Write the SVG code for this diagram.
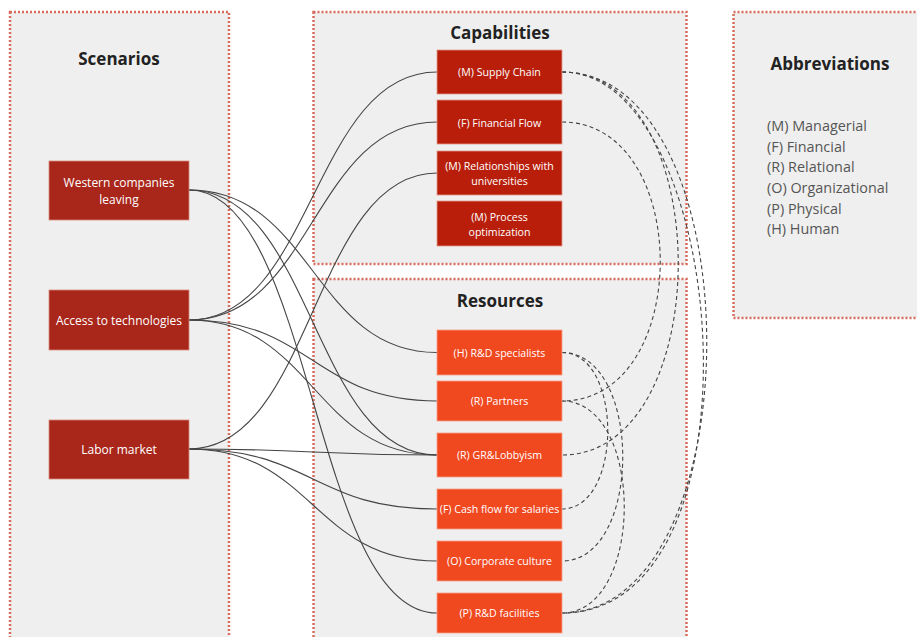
<svg xmlns="http://www.w3.org/2000/svg" width="917" height="637" viewBox="0 0 917 637">
<style>
.panel{fill:#efefef;stroke:#d86c5c;stroke-width:2.5;stroke-dasharray:2 2}
.title{font-family:"Open Sans","Liberation Sans",sans-serif;font-weight:bold;font-size:17px;fill:#222;text-anchor:middle}
.abbr{font-family:"Open Sans","Liberation Sans",sans-serif;font-size:14.4px;fill:#555}
.nt{font-family:"Open Sans","Liberation Sans",sans-serif;font-size:10.6px;fill:#fff;text-anchor:middle}
.st{font-family:"Open Sans","Liberation Sans",sans-serif;font-size:12px;fill:#fff;text-anchor:middle}
.scen{fill:#a9261a;stroke:#d88a7e;stroke-width:0.8}
.cap{fill:#b81e0a;stroke:#e49a8c;stroke-width:0.8}
.res{fill:#f0481f;stroke:#f7a08a;stroke-width:0.8}
.sol{fill:none;stroke:#444;stroke-width:1.1}
.dash{fill:none;stroke:#444;stroke-width:1.1;stroke-dasharray:4 3}
</style>
<rect width="917" height="637" fill="#fff"/>
<g id="panel-scenarios">
<rect class="panel" x="10" y="12" width="219" height="640"/>
<text class="title" x="119" y="65">Scenarios</text>
</g>
<g id="panel-capabilities">
<rect class="panel" x="313.5" y="12" width="373" height="252"/>
<text class="title" x="500" y="39">Capabilities</text>
</g>
<g id="panel-resources">
<rect class="panel" x="313.5" y="279" width="373" height="370"/>
<text class="title" x="500" y="307">Resources</text>
</g>
<g id="panel-abbreviations">
<rect class="panel" x="733.5" y="12" width="200" height="306"/>
<text class="title" x="830" y="70">Abbreviations</text>
<text class="abbr" x="767" y="131">(M) Managerial</text>
<text class="abbr" x="767" y="151.7">(F) Financial</text>
<text class="abbr" x="767" y="172.3">(R) Relational</text>
<text class="abbr" x="767" y="193">(O) Organizational</text>
<text class="abbr" x="767" y="213.7">(P) Physical</text>
<text class="abbr" x="767" y="234.3">(H) Human</text>
</g>
<g id="connectors">
<path class="sol" d="M189,190 C313,190 313,352.5 437,352.5"/>
<path class="sol" d="M189,190 C313,190 313,455 437,455"/>
<path class="sol" d="M189,190 C313,190 313,613 437,613"/>
<path class="sol" d="M189,320 C313,320 313,72 437,72"/>
<path class="sol" d="M189,320 C313,320 313,122 437,122"/>
<path class="sol" d="M189,320 C313,320 313,401 437,401"/>
<path class="sol" d="M189,320 C313,320 313,455 437,455"/>
<path class="sol" d="M189,449 C313,449 313,173 437,173"/>
<path class="sol" d="M189,449 C313,449 313,455 437,455"/>
<path class="sol" d="M189,449 C313,449 313,509 437,509"/>
<path class="sol" d="M189,449 C313,449 313,561 437,561"/>
<path class="dash" d="M562,72 C755,72 755,613 562,613"/>
<path class="dash" d="M562,72 C730,72 770,613 562,613"/>
<path class="dash" d="M562,72 C717,72 717,455 562,455"/>
<path class="dash" d="M562,122 C693,122 693,401 562,401"/>
<path class="dash" d="M562,352.5 C623,352.5 623,509 562,509"/>
<path class="dash" d="M562,352.5 C643,352.5 643,561 562,561"/>
<path class="dash" d="M562,401 C645,401 645,613 562,613"/>
</g>
<g id="node-western">
<rect class="scen" x="49" y="161" width="140" height="59"/>
<text class="st" x="119" y="187">Western companies</text>
<text class="st" x="119" y="204">leaving</text>
</g>
<g id="node-access">
<rect class="scen" x="49" y="290" width="140" height="60"/>
<text class="st" x="119" y="324.5">Access to technologies</text>
</g>
<g id="node-labor">
<rect class="scen" x="49" y="420" width="140" height="59"/>
<text class="st" x="119" y="453.5">Labor market</text>
</g>
<g id="node-supply-chain">
<rect class="cap" x="437" y="50" width="125" height="44"/>
<text class="nt" x="499.5" y="76">(M) Supply Chain</text>
</g>
<g id="node-financial-flow">
<rect class="cap" x="437" y="100" width="125" height="44"/>
<text class="nt" x="499.5" y="126.5">(F) Financial Flow</text>
</g>
<g id="node-relationships">
<rect class="cap" x="437" y="151" width="125" height="44"/>
<text class="nt" x="499.5" y="170">(M) Relationships with</text>
<text class="nt" x="499.5" y="184.5">universities</text>
</g>
<g id="node-process">
<rect class="cap" x="437" y="201" width="125" height="45"/>
<text class="nt" x="499.5" y="221">(M) Process</text>
<text class="nt" x="499.5" y="235.5">optimization</text>
</g>
<g id="node-rd-specialists">
<rect class="res" x="437" y="330" width="125" height="45"/>
<text class="nt" x="499.5" y="356.5">(H) R&amp;D specialists</text>
</g>
<g id="node-partners">
<rect class="res" x="437" y="381" width="125" height="40"/>
<text class="nt" x="499.5" y="405">(R) Partners</text>
</g>
<g id="node-gr">
<rect class="res" x="437" y="433" width="125" height="44"/>
<text class="nt" x="499.5" y="459">(R) GR&amp;Lobbyism</text>
</g>
<g id="node-cash">
<rect class="res" x="437" y="489" width="125" height="40"/>
<text class="nt" x="499.5" y="513">(F) Cash flow for salaries</text>
</g>
<g id="node-culture">
<rect class="res" x="437" y="541" width="125" height="40"/>
<text class="nt" x="499.5" y="565">(O) Corporate culture</text>
</g>
<g id="node-facilities">
<rect class="res" x="437" y="593" width="125" height="40"/>
<text class="nt" x="499.5" y="617">(P) R&amp;D facilities</text>
</g>
</svg>
